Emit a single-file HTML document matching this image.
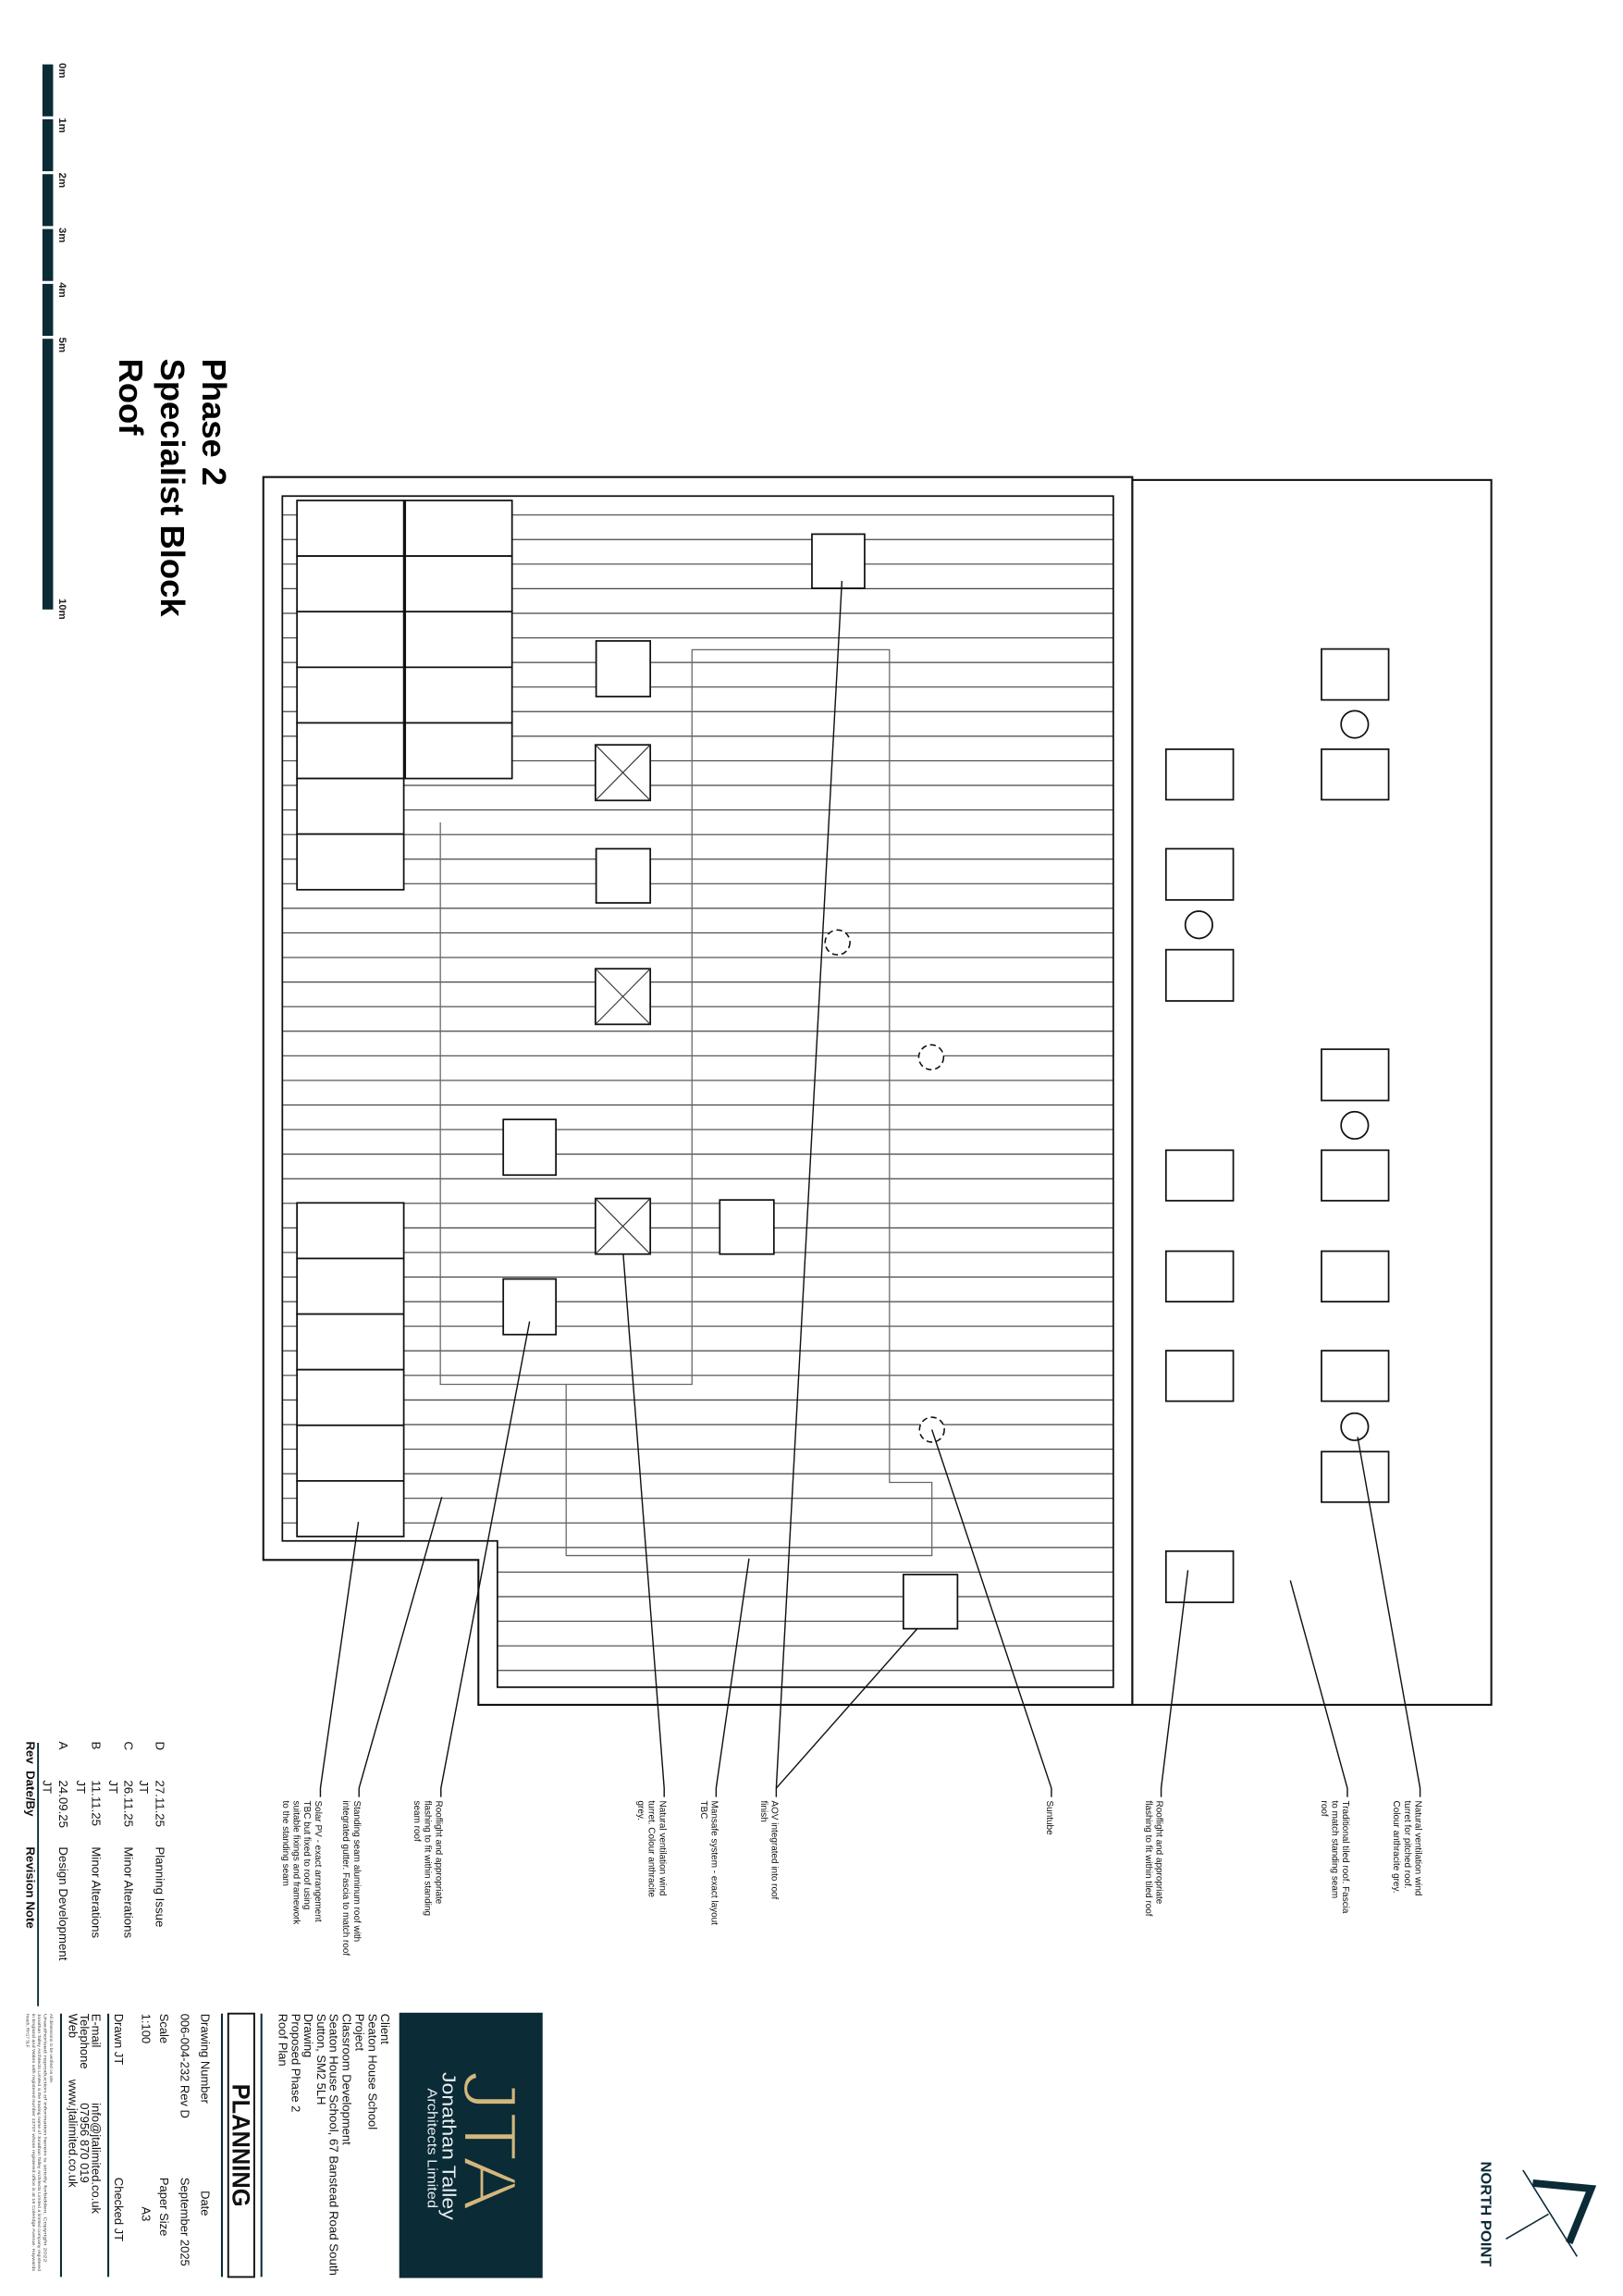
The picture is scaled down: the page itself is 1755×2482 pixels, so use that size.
<!DOCTYPE html>
<html><head><meta charset="utf-8"><style>
html,body{margin:0;padding:0;background:#fff;}
svg{display:block;}
text{font-family:"Liberation Sans",sans-serif;}
</style></head><body>
<svg width="1755" height="2482" viewBox="0 0 1109.4 1569" preserveAspectRatio="none" xmlns="http://www.w3.org/2000/svg">
<rect width="1109.4" height="1569" fill="#fff"/>

<g fill="#0b2b36">
<rect x="29" y="44" width="7.3" height="35.5"/>
<rect x="29" y="81.5" width="7.3" height="35.5"/>
<rect x="29" y="119" width="7.3" height="35.5"/>
<rect x="29" y="156.5" width="7.3" height="35.5"/>
<rect x="29" y="194" width="7.3" height="35.5"/>
<rect x="29" y="231.5" width="7.3" height="185"/>
</g>
<g font-size="7.2" font-weight="bold" fill="#222">
<text transform="translate(40.5,43) rotate(90)">0m</text>
<text transform="translate(40.5,80.5) rotate(90)">1m</text>
<text transform="translate(40.5,118) rotate(90)">2m</text>
<text transform="translate(40.5,155.5) rotate(90)">3m</text>
<text transform="translate(40.5,193) rotate(90)">4m</text>
<text transform="translate(40.5,230.5) rotate(90)">5m</text>
<text transform="translate(40.5,409) rotate(90)">10m</text>
</g>

<g font-size="23" font-weight="bold" fill="#000">
<text transform="translate(138.5,245) rotate(90)">Phase 2</text>
<text transform="translate(110,245) rotate(90)">Specialist Block</text>
<text transform="translate(81.5,245) rotate(90)">Roof</text>
</g>

<g id="seams" stroke="#444" stroke-width="0.75">
<line x1="193" y1="351.9" x2="761" y2="351.9"/><line x1="193" y1="368.7" x2="761" y2="368.7"/><line x1="193" y1="385.5" x2="761" y2="385.5"/><line x1="193" y1="402.3" x2="761" y2="402.3"/><line x1="193" y1="419.1" x2="761" y2="419.1"/><line x1="193" y1="435.9" x2="761" y2="435.9"/><line x1="193" y1="452.7" x2="761" y2="452.7"/><line x1="193" y1="469.5" x2="761" y2="469.5"/><line x1="193" y1="486.3" x2="761" y2="486.3"/><line x1="193" y1="503.1" x2="761" y2="503.1"/><line x1="193" y1="519.9" x2="761" y2="519.9"/><line x1="193" y1="536.7" x2="761" y2="536.7"/><line x1="193" y1="553.5" x2="761" y2="553.5"/><line x1="193" y1="570.3" x2="761" y2="570.3"/><line x1="193" y1="587.1" x2="761" y2="587.1"/><line x1="193" y1="603.9" x2="761" y2="603.9"/><line x1="193" y1="620.7" x2="761" y2="620.7"/><line x1="193" y1="637.5" x2="761" y2="637.5"/><line x1="193" y1="654.3" x2="761" y2="654.3"/><line x1="193" y1="671.1" x2="761" y2="671.1"/><line x1="193" y1="687.9" x2="761" y2="687.9"/><line x1="193" y1="704.7" x2="761" y2="704.7"/><line x1="193" y1="721.5" x2="761" y2="721.5"/><line x1="193" y1="738.3" x2="761" y2="738.3"/><line x1="193" y1="755.1" x2="761" y2="755.1"/><line x1="193" y1="771.9" x2="761" y2="771.9"/><line x1="193" y1="788.7" x2="761" y2="788.7"/><line x1="193" y1="805.5" x2="761" y2="805.5"/><line x1="193" y1="822.3" x2="761" y2="822.3"/><line x1="193" y1="839.1" x2="761" y2="839.1"/><line x1="193" y1="855.9" x2="761" y2="855.9"/><line x1="193" y1="872.7" x2="761" y2="872.7"/><line x1="193" y1="889.5" x2="761" y2="889.5"/><line x1="193" y1="906.3" x2="761" y2="906.3"/><line x1="193" y1="923.1" x2="761" y2="923.1"/><line x1="193" y1="939.9" x2="761" y2="939.9"/><line x1="193" y1="956.7" x2="761" y2="956.7"/><line x1="193" y1="973.5" x2="761" y2="973.5"/><line x1="193" y1="990.3" x2="761" y2="990.3"/><line x1="193" y1="1007.1" x2="761" y2="1007.1"/><line x1="193" y1="1023.9" x2="761" y2="1023.9"/><line x1="193" y1="1040.7" x2="761" y2="1040.7"/><line x1="340" y1="1057.5" x2="761" y2="1057.5"/><line x1="340" y1="1074.3" x2="761" y2="1074.3"/><line x1="340" y1="1091.1" x2="761" y2="1091.1"/><line x1="340" y1="1107.9" x2="761" y2="1107.9"/><line x1="340" y1="1124.7" x2="761" y2="1124.7"/><line x1="340" y1="1141.5" x2="761" y2="1141.5"/>
</g>

<g fill="none" stroke="#111" stroke-width="1.3">
<polygon points="180,326 774,326 774,1165 327,1165 327,1066 180,1066"/>
<polygon points="193,339 761,339 761,1153 340,1153 340,1053 193,1053" stroke-width="1.1"/>
<rect x="774" y="328" width="245.4" height="837"/>
</g>

<g fill="none" stroke="#666" stroke-width="0.8">
<polyline points="301,562 301,946 473,946 473,444 608,444 608,1013 637,1013 637,1063 387,1063 387,946"/>
</g>

<g fill="#fff" stroke="#111" stroke-width="1.1">
<rect x="203" y="342" width="73" height="38"/><rect x="203" y="380" width="73" height="38"/><rect x="203" y="418" width="73" height="38"/><rect x="203" y="456" width="73" height="38"/><rect x="203" y="494" width="73" height="38"/><rect x="203" y="532" width="73" height="38"/><rect x="203" y="570" width="73" height="38"/>
<rect x="277" y="342" width="73" height="38"/><rect x="277" y="380" width="73" height="38"/><rect x="277" y="418" width="73" height="38"/><rect x="277" y="456" width="73" height="38"/><rect x="277" y="494" width="73" height="38"/>
<rect x="203" y="822" width="73" height="38"/><rect x="203" y="860" width="73" height="38"/><rect x="203" y="898" width="73" height="38"/><rect x="203" y="936" width="73" height="38"/><rect x="203" y="974" width="73" height="38"/><rect x="203" y="1012" width="73" height="38"/>
</g>

<g fill="#fff" stroke="#111" stroke-width="1.1">
<rect x="555" y="365" width="36" height="37"/>
<rect x="407.5" y="438" width="37" height="38"/>
<rect x="407.5" y="580" width="37" height="37"/>
<rect x="344" y="765" width="36" height="38"/>
<rect x="344" y="874" width="36" height="38"/>
<rect x="492" y="820" width="37" height="37"/>
<rect x="617.5" y="1076" width="37" height="37"/>
<rect x="407" y="509" width="37.5" height="38"/>
<rect x="407" y="662" width="37.5" height="38"/>
<rect x="407" y="819" width="37.5" height="38"/>
</g>
<g stroke="#333" stroke-width="0.7">
<line x1="407" y1="509" x2="444.5" y2="547"/><line x1="444.5" y1="509" x2="407" y2="547"/>
<line x1="407" y1="662" x2="444.5" y2="700"/><line x1="444.5" y1="662" x2="407" y2="700"/>
<line x1="407" y1="819" x2="444.5" y2="857"/><line x1="444.5" y1="819" x2="407" y2="857"/>
</g>
<g fill="#fff" stroke="#111" stroke-width="1" stroke-dasharray="4,2.5">
<circle cx="572.5" cy="644" r="8.5"/>
<circle cx="636.5" cy="722.5" r="8.5"/>
<circle cx="637" cy="977" r="8.5"/>
</g>

<g fill="#fff" stroke="#111" stroke-width="1.1">
<rect x="797" y="512" width="46" height="34.5"/><rect x="797" y="580" width="46" height="35"/><rect x="797" y="649" width="46" height="35"/><rect x="797" y="786" width="46" height="34.5"/><rect x="797" y="855" width="46" height="34.5"/><rect x="797" y="923" width="46" height="34.5"/><rect x="797" y="1060" width="46" height="35"/>
<rect x="903.3" y="443.5" width="45.9" height="34.8"/><rect x="903.3" y="512" width="45.9" height="34.5"/><rect x="903.3" y="717" width="45.9" height="35"/><rect x="903.3" y="786" width="45.9" height="34.5"/><rect x="903.3" y="855" width="45.9" height="34.5"/><rect x="903.3" y="923" width="45.9" height="34.5"/><rect x="903.3" y="992" width="45.9" height="34.5"/>
<circle cx="926" cy="495" r="9.3"/><circle cx="819.5" cy="632" r="9.3"/><circle cx="926" cy="769" r="9.3"/><circle cx="926" cy="975" r="9.3"/>
</g>

<g fill="none" stroke="#111" stroke-width="0.9">
<polyline points="245,1040 219,1222 219,1228"/>
<polyline points="302,1023 245.4,1222 245.4,1228"/>
<polyline points="362,903 301.4,1222 301.4,1228"/>
<polyline points="426,857 454,1222 454,1228"/>
<polyline points="512,1065 489.5,1222 489.5,1228"/>
<polyline points="575.5,397 530.6,1222 530.6,1228"/>
<polyline points="627,1113 530.6,1222"/>
<polyline points="637,977 718.7,1222 718.7,1228"/>
<polyline points="812,1073 793.7,1222 793.7,1228"/>
<polyline points="882,1080 921,1222 921,1228"/>
<polyline points="928,982 970.7,1222 970.7,1228"/>
</g>

<g font-size="6.3" fill="#111">
<text transform="translate(215.5,1230.5) rotate(90)">Solar PV - exact arrangement</text>
<text transform="translate(208.1,1230.5) rotate(90)">TBC but fixed to roof using</text>
<text transform="translate(200.7,1230.5) rotate(90)">suitable fixings and framework</text>
<text transform="translate(193.3,1230.5) rotate(90)">to the standing seam</text>
<text transform="translate(242,1230.5) rotate(90)">Standing seam aluminum roof with</text>
<text transform="translate(234.6,1230.5) rotate(90)">integrated gutter. Fascia to match roof</text>
<text transform="translate(298,1230.5) rotate(90)">Rooflight and appropriate</text>
<text transform="translate(290.6,1230.5) rotate(90)">flashing to fit within standing</text>
<text transform="translate(283.2,1230.5) rotate(90)">seam roof</text>
<text transform="translate(451,1230.5) rotate(90)">Natural ventilation wind</text>
<text transform="translate(443.6,1230.5) rotate(90)">turret. Colour anthracite</text>
<text transform="translate(436.2,1230.5) rotate(90)">grey.</text>
<text transform="translate(486.5,1230.5) rotate(90)">Mansafe system - exact layout</text>
<text transform="translate(479.1,1230.5) rotate(90)">TBC</text>
<text transform="translate(527.5,1230.5) rotate(90)">AOV integrated into roof</text>
<text transform="translate(520.1,1230.5) rotate(90)">finish</text>
<text transform="translate(715.5,1230.5) rotate(90)">Suntube</text>
<text transform="translate(790.5,1230.5) rotate(90)">Rooflight and appropriate</text>
<text transform="translate(783.1,1230.5) rotate(90)">flashing to fit within tiled roof</text>
<text transform="translate(918,1230.5) rotate(90)">Traditional tiled roof. Fascia</text>
<text transform="translate(910.6,1230.5) rotate(90)">to match standing seam</text>
<text transform="translate(903.2,1230.5) rotate(90)">roof</text>
<text transform="translate(967.5,1230.5) rotate(90)">Natural ventilation wind</text>
<text transform="translate(960.1,1230.5) rotate(90)">turret for pitched roof.</text>
<text transform="translate(952.7,1230.5) rotate(90)">Colour anthracite grey.</text>
</g>

<g font-size="8.4" fill="#111">
<text transform="translate(106.5,1190) rotate(90)">D</text>
<text transform="translate(106.5,1216.5) rotate(90)">27.11.25</text>
<text transform="translate(106.5,1262) rotate(90)">Planning Issue</text>
<text transform="translate(95.5,1216.5) rotate(90)">JT</text>
<text transform="translate(85,1190) rotate(90)">C</text>
<text transform="translate(85,1216.5) rotate(90)">26.11.25</text>
<text transform="translate(85,1262) rotate(90)">Minor Alterations</text>
<text transform="translate(74.5,1216.5) rotate(90)">JT</text>
<text transform="translate(63,1190) rotate(90)">B</text>
<text transform="translate(63,1216.5) rotate(90)">11.11.25</text>
<text transform="translate(63,1262) rotate(90)">Minor Alterations</text>
<text transform="translate(52.5,1216.5) rotate(90)">JT</text>
<text transform="translate(40.5,1190) rotate(90)">A</text>
<text transform="translate(40.5,1216.5) rotate(90)">24.09.25</text>
<text transform="translate(40.5,1262) rotate(90)">Design Development</text>
<text transform="translate(29.5,1216.5) rotate(90)">JT</text>
<g font-weight="bold">
<text transform="translate(18,1190) rotate(90)">Rev</text>
<text transform="translate(18,1210) rotate(90)">Date/By</text>
<text transform="translate(18,1262) rotate(90)">Revision Note</text>
</g>
</g>
<line x1="26" y1="1191" x2="26" y2="1371" stroke="#0b2b36" stroke-width="1.2"/>

<rect x="272.9" y="1375.4" width="98" height="181.3" fill="#0b2b36"/>
<text transform="translate(317,1414.7) rotate(90)" font-family="DejaVu Sans, Liberation Sans, sans-serif" font-weight="200" font-size="52" fill="#d4b77c" stroke="#0b2b36" stroke-width="2" paint-order="fill" textLength="96" lengthAdjust="spacingAndGlyphs">JTA</text>
<text transform="translate(302.5,1416) rotate(90)" font-size="13" fill="#e8eef0" textLength="101" lengthAdjust="spacingAndGlyphs">Jonathan Talley</text>
<text transform="translate(292.5,1427) rotate(90)" font-size="9.5" fill="#e8eef0" textLength="82" lengthAdjust="spacingAndGlyphs">Architects Limited</text>

<g font-size="8.2" fill="#111">
<text transform="translate(260.5,1376) rotate(90)">Client</text>
<text transform="translate(251.8,1376) rotate(90)">Seaton House School</text>
<text transform="translate(243,1376) rotate(90)">Project</text>
<text transform="translate(234.3,1376) rotate(90)">Classroom Development</text>
<text transform="translate(225.5,1376) rotate(90)" textLength="179" lengthAdjust="spacingAndGlyphs">Seaton House School, 67 Banstead Road South</text>
<text transform="translate(216.8,1376) rotate(90)">Sutton, SM2 5LH</text>
<text transform="translate(208,1376) rotate(90)">Drawing</text>
<text transform="translate(199.3,1376) rotate(90)">Proposed Phase 2</text>
<text transform="translate(190.5,1376) rotate(90)">Roof Plan</text>
</g>
<g stroke="#0b2b36" stroke-width="1.3">
<line x1="178.7" y1="1376" x2="178.7" y2="1556"/>
<line x1="151.7" y1="1376" x2="151.7" y2="1556"/>
<line x1="74" y1="1376" x2="74" y2="1556"/>
<line x1="41.7" y1="1376" x2="41.7" y2="1556"/>
</g>
<rect x="156" y="1376" width="17.8" height="180" fill="none" stroke="#111" stroke-width="1.2"/>
<text transform="translate(159,1424) rotate(90)" font-size="17" font-weight="bold" fill="#111" textLength="84" lengthAdjust="spacingAndGlyphs">PLANNING</text>

<g font-size="8.2" fill="#111">
<text transform="translate(137.5,1376) rotate(90)">Drawing Number</text>
<text transform="translate(137.5,1497) rotate(90)">Date</text>
<text transform="translate(123.5,1376) rotate(90)">006-004-232 Rev D</text>
<text transform="translate(123.5,1488) rotate(90)">September 2025</text>
<text transform="translate(109.5,1376) rotate(90)">Scale</text>
<text transform="translate(109.5,1488) rotate(90)">Paper Size</text>
<text transform="translate(97,1376) rotate(90)">1:100</text>
<text transform="translate(97,1508) rotate(90)">A3</text>
<text transform="translate(78.5,1376) rotate(90)">Drawn   JT</text>
<text transform="translate(78.5,1488) rotate(90)">Checked   JT</text>
<text transform="translate(63,1376) rotate(90)">E-mail</text>
<text transform="translate(63,1437) rotate(90)">info@jtalimited.co.uk</text>
<text transform="translate(55,1376) rotate(90)">Telephone</text>
<text transform="translate(55,1437) rotate(90)">07956 870 019</text>
<text transform="translate(47,1376) rotate(90)">Web</text>
<text transform="translate(47,1421) rotate(90)">www.jtalimited.co.uk</text>
</g>
<g font-size="3" fill="#444">
<text transform="translate(34,1376) rotate(90)">All dimensions to be verified on site.</text>
<text transform="translate(30,1376) rotate(90)" textLength="170" lengthAdjust="spacingAndGlyphs">Unauthorised reproduction of information herein is strictly forbidden. Copyright 2022</text>
<text transform="translate(26,1376) rotate(90)" textLength="176" lengthAdjust="spacingAndGlyphs">Jonathan Talley Architects Limited is the trading name of Jonathan Talley Architects Limited a limited company registered</text>
<text transform="translate(22,1376) rotate(90)" textLength="176" lengthAdjust="spacingAndGlyphs">in England and Wales with registered number 13707 whose registered office is at 16 Coleridge Avenue, Haywards</text>
<text transform="translate(18,1376) rotate(90)">Heath, RH17 5LF</text>
</g>

<polyline points="1047.7,1491.8 1087.6,1495.6 1072.6,1532.7" fill="none" stroke="#0b2b36" stroke-width="5"/>
<line x1="1041" y1="1483" x2="1078" y2="1542" stroke="#0b2b36" stroke-width="1"/>
<line x1="1058.5" y1="1513" x2="1029.4" y2="1530" stroke="#0b2b36" stroke-width="1"/>
<text transform="translate(1012.5,1477) rotate(90)" font-size="10" font-weight="bold" fill="#0b2b36" textLength="72" lengthAdjust="spacingAndGlyphs">NORTH POINT</text>
</svg>
</body></html>
